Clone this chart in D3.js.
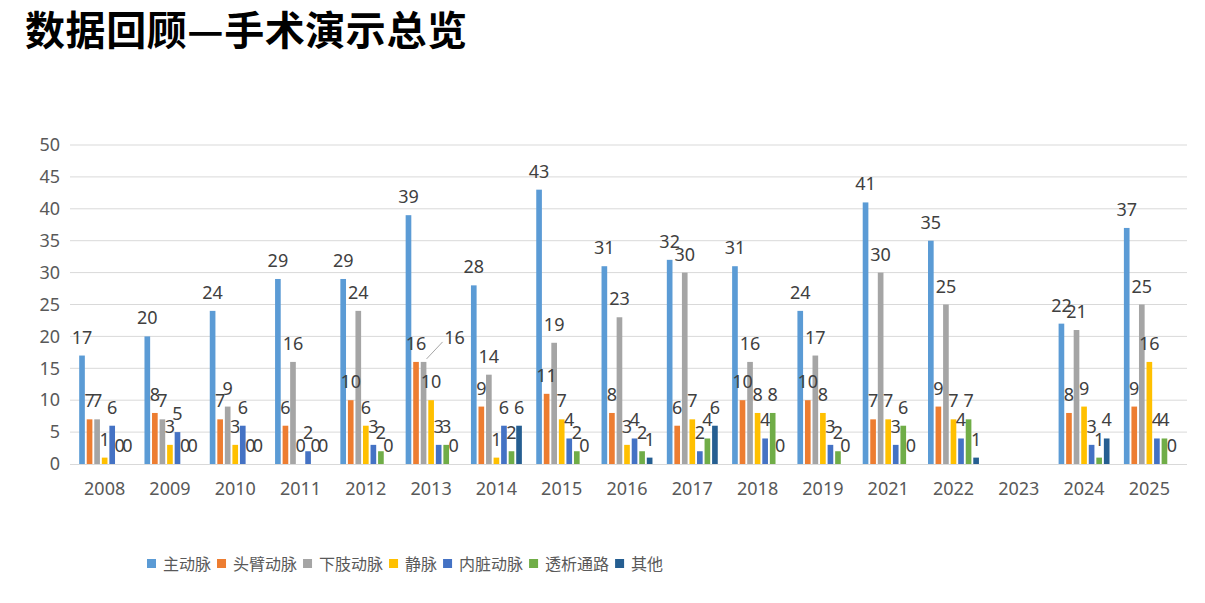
<!DOCTYPE html>
<html><head><meta charset="utf-8">
<script src="https://cdn.jsdelivr.net/npm/d3@7"></script>
<style>
html,body{margin:0;padding:0;background:#fff;}
svg{display:block;font-family:"Noto Sans CJK SC","Noto Sans",sans-serif;}
</style></head>
<body><svg id="chart" width="1205" height="603"></svg>
<script>
const title = "数据回顾—手术演示总览";
const categories = ["2008","2009","2010","2011","2012","2013","2014","2015","2016","2017","2018","2019","2021","2022","2023","2024","2025"];
const seriesNames = ["主动脉","头臂动脉","下肢动脉","静脉","内脏动脉","透析通路","其他"];
const seriesColors = ["#5B9BD5","#ED7D31","#A5A5A5","#FFC000","#4472C4","#70AD47","#255E91"];
const aorta      = [17,20,24,29,29,39,28,43,31,32,31,24,41,35,null,22,37];
const brachioceph= [7,8,7,6,10,16,9,11,8,6,10,10,7,9,null,8,9];
const lowerLimb  = [7,7,9,16,24,16,14,19,23,30,16,17,30,25,null,21,25];
const vein       = [1,3,3,0,6,10,1,7,3,7,8,8,7,7,null,9,16];
const visceral   = [6,5,6,2,3,3,6,4,4,2,4,3,3,4,null,3,4];
const dialysis   = [0,0,0,0,2,3,2,2,2,4,8,2,6,7,null,1,4];
const other      = [0,0,0,0,0,0,6,0,1,6,0,0,0,1,null,4,0];
const yTicks = [0,5,10,15,20,25,30,35,40,45,50];

const seriesValues = [aorta,brachioceph,lowerLimb,vein,visceral,dialysis,other];

const svg = d3.select("#chart");
const margin = {left:72, right:1182, top:145, bottom:464};

svg.append("text").attr("x",25).attr("y",45)
  .attr("font-size",40).attr("font-weight","bold").attr("fill","#000")
  .attr("textLength",442).attr("lengthAdjust","spacing")
  .text(title);

const x0 = d3.scaleBand().domain(categories).range([margin.left, margin.right]).paddingInner(0.22).paddingOuter(0.11);
const x1 = d3.scaleBand().domain(seriesNames).range([0, x0.bandwidth()]).paddingInner(0.25);
const y = d3.scaleLinear().domain([0,50]).range([margin.bottom, margin.top]);

// gridlines
svg.append("g").selectAll("line").data(yTicks.filter(d=>d>0)).join("line")
  .attr("x1",70).attr("x2",1187)
  .attr("y1",d=>y(d)).attr("y2",d=>y(d))
  .attr("stroke","#D9D9D9").attr("stroke-width",1);

// y axis
const yAxis = d3.axisLeft(y).tickValues(yTicks).tickSize(0).tickPadding(10);
const gy = svg.append("g").attr("transform","translate(70,0)").call(yAxis);
gy.select(".domain").remove();
gy.selectAll("text").attr("font-size",18).attr("fill","#595959")
  .attr("font-family","'Noto Sans','Noto Sans CJK SC',sans-serif");

// x axis
const xAxis = d3.axisBottom(x0).tickSize(0).tickPadding(18);
const gx = svg.append("g").attr("transform",`translate(0,${margin.bottom})`).call(xAxis);
gx.select(".domain").attr("stroke","#D9D9D9").attr("d","M70,0.5H1187");
gx.selectAll("text").attr("font-size",18).attr("fill","#595959")
  .attr("font-family","'Noto Sans','Noto Sans CJK SC',sans-serif");

// bars
const rows = [];
categories.forEach((c,i)=>{
  seriesNames.forEach((s,j)=>{
    const v = seriesValues[j][i];
    if (v !== null && v !== undefined) rows.push({c, s, v, j});
  });
});

const g = svg.append("g");
g.selectAll("rect").data(rows).join("rect")
  .attr("x",d=>x0(d.c)+x1(d.s))
  .attr("width",x1.bandwidth())
  .attr("y",d=>y(d.v))
  .attr("height",d=>y(0)-y(d.v))
  .attr("fill",d=>seriesColors[d.j]);

// labels
const moved = d => d.c==="2013" && d.s==="下肢动脉";
g.selectAll("text.lbl").data(rows).join("text").attr("class","lbl")
  .attr("x",d=>x0(d.c)+x1(d.s)+x1.bandwidth()/2 + (moved(d)?31:0))
  .attr("y",d=>y(d.v)-12 + (moved(d)?-6:0))
  .attr("text-anchor","middle")
  .attr("font-size",18).attr("fill","#404040")
  .attr("font-family","'Noto Sans','Noto Sans CJK SC',sans-serif")
  .text(d=>d.v);
rows.filter(moved).forEach(d=>{
  const bx = x0(d.c)+x1(d.s)+x1.bandwidth()/2;
  g.append("line").attr("x1",bx+3).attr("y1",y(d.v)-3)
    .attr("x2",bx+19).attr("y2",y(d.v)-20)
    .attr("stroke","#A6A6A6").attr("stroke-width",1);
});

// legend
const leg = svg.append("g").attr("transform","translate(147,564)");
let lx = 0;
seriesNames.forEach((s,j)=>{
  leg.append("rect").attr("x",lx).attr("y",-5).attr("width",9).attr("height",9).attr("fill",seriesColors[j]);
  const t = leg.append("text").attr("x",lx+16).attr("y",6).attr("font-size",16).attr("fill","#595959").text(s);
  lx += 16 + t.node().getComputedTextLength() + 6;
});
</script></body></html>
